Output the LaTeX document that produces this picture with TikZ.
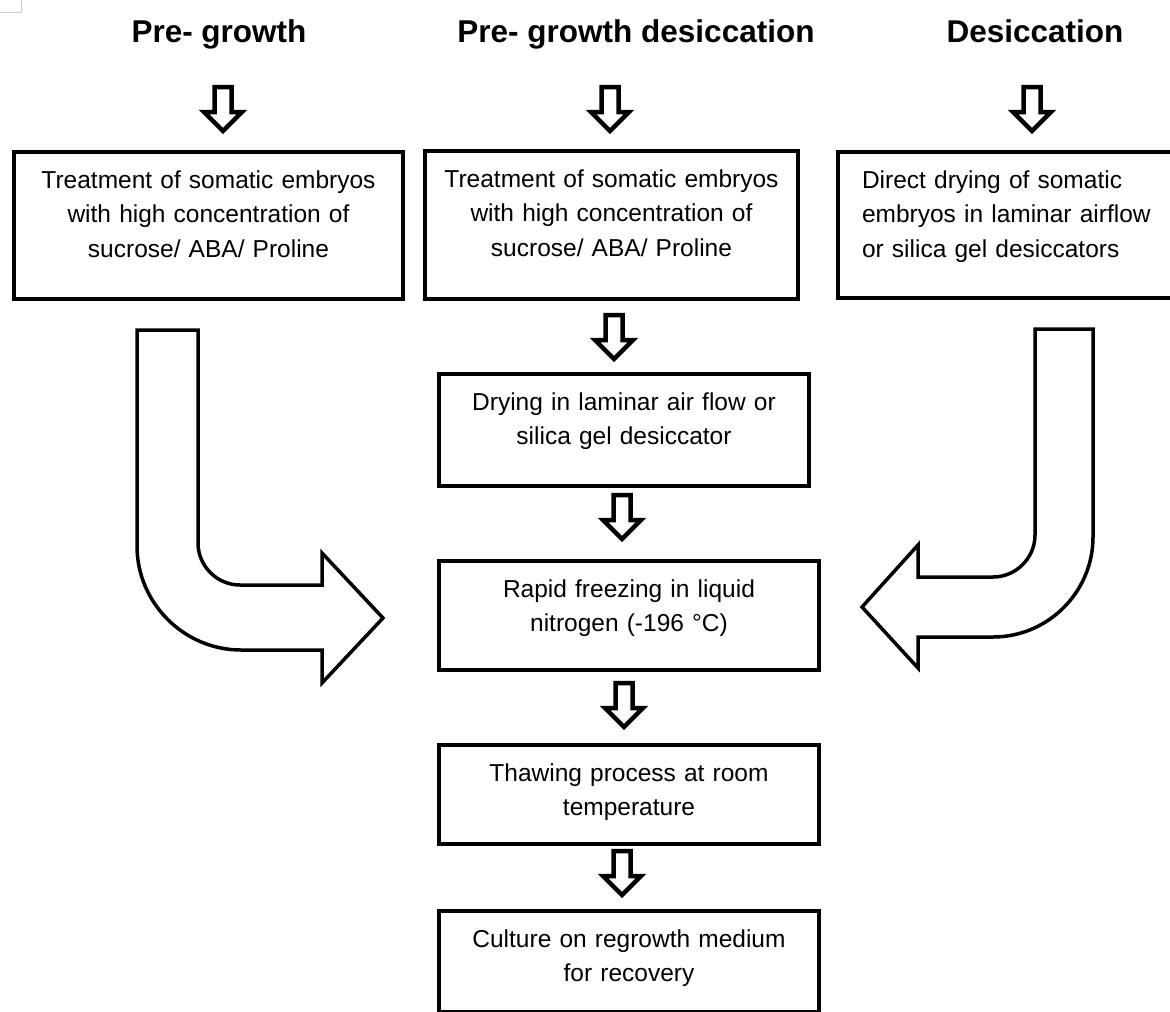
\documentclass[tikz,border=0pt]{standalone}
\usepackage{fontspec}
\setmainfont{Liberation Sans}
\tikzset{
	stepbox/.style={draw,line width=4pt,rectangle,anchor=north west,inner ysep=0pt,inner xsep=8pt,align=center,text height=36pt,font=\fontsize{24.5}{34.5}\selectfont},
	headline/.style={anchor=base,font=\bfseries\fontsize{31.5}{38}\selectfont},
	downarr/.pic={\draw[line width=4.5pt] (-8.5,2) -- (8.5,2) -- (8.5,27) -- (19,27) -- (0,46) -- (-19,27) -- (-8.5,27) -- cycle;}
}
\begin{document}
\begin{tikzpicture}[x=1pt,y=-1pt]
	\useasboundingbox (0,0) rectangle (1170,1012);
	\clip (0,0) rectangle (1170,1012);
	\draw [gray!40,line width=1pt] (0,12) -- (21,12) -- (21,0);
	%Ueberschriften
	\node[headline] (t1) at (219,42) {Pre- growth};
	\node[headline] (t2) at (636,42) {Pre- growth desiccation};
	\node[headline] (t3) at (1035,42) {Desiccation};
	%Kaesten
	\node[stepbox,minimum width=389pt,minimum height=147pt,text width=373pt,text depth=111pt] (b1) at (12,150) {Treatment of somatic embryos\\with high concentration of\\sucrose/ ABA/ Proline};
	\node[stepbox,minimum width=373pt,minimum height=148pt,text width=357pt,text depth=112pt] (b2) at (423,149) {Treatment of somatic embryos\\with high concentration of\\sucrose/ ABA/ Proline};
	\node[stepbox,minimum width=364pt,minimum height=146pt,inner xsep=24pt,text width=316pt,text depth=110pt,align=left] (b3) at (836,150) {Direct drying of somatic\\embryos in laminar airflow\\or silica gel desiccators};
	\node[stepbox,minimum width=370pt,minimum height=112pt,text width=354pt,text depth=76pt] (b4) at (437,372) {Drying in laminar air flow or\\silica gel desiccator};
	\node[stepbox,minimum width=380pt,minimum height=109pt,text width=364pt,text depth=73pt] (b5) at (437,559) {Rapid freezing in liquid\\nitrogen (-196 °C)};
	\node[stepbox,minimum width=380pt,minimum height=99pt,text width=364pt,text depth=63pt] (b6) at (437,743) {Thawing process at room\\temperature};
	\node[stepbox,minimum width=380pt,minimum height=101pt,text width=364pt,text depth=65pt] (b7) at (437,909) {Culture on regrowth medium\\for recovery};
	%kleine Pfeile
	\pic at (223,85) {downarr};
	\pic at (610,85) {downarr};
	\pic at (1032,85) {downarr};
	\pic at (614,313) {downarr};
	\pic at (622,493) {downarr};
	\pic at (624,681) {downarr};
	\pic at (622,849) {downarr};
	%gebogene Pfeile
	\draw [line width=3.5pt] (137,330) -- (198,330) -- (198,543) .. controls (198,566) and (217,585) .. (240,585) -- (322,585) -- (322,553) -- (383,618) -- (322,683) -- (322,650) -- (241,650) .. controls (184,650) and (137,603) .. (137,546) -- cycle;
	\draw [line width=3.5pt] (1093,329) -- (1035,329) -- (1035,535) .. controls (1035,558) and (1016,577) .. (993,577) -- (918,577) -- (918,545) -- (862,607) -- (918,668) -- (918,637) -- (993,637) .. controls (1048,637) and (1093,592) .. (1093,537) -- cycle;
\end{tikzpicture}
\end{document}
